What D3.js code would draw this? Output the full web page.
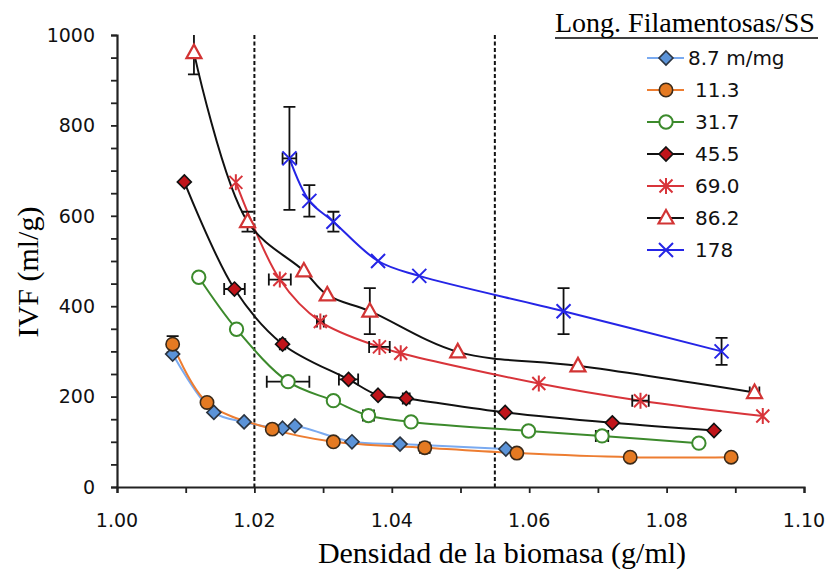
<!DOCTYPE html>
<html>
<head>
<meta charset="utf-8">
<script src="https://cdn.jsdelivr.net/npm/d3@7"></script>
<style>
  html, body { margin: 0; padding: 0; background: #fff; }
  svg { display: block; }
</style>
</head>
<body>
<svg id="chart" width="834" height="574"></svg>
<script>
// ---- Data: biomass density (g/ml) vs IVF (ml/g) by filament length ----
const seriesNames = ["8.7 m/mg", "11.3", "31.7", "45.5", "69.0", "86.2", "178"];

const density87 = [1.0081, 1.0141, 1.0185, 1.0241, 1.0259, 1.0342, 1.0412, 1.0566];
const ivf87     = [294, 165, 144, 130, 135, 100, 95, 84];

const density113 = [1.0081, 1.0131, 1.0226, 1.0315, 1.0448, 1.0582, 1.0747, 1.0894];
const ivf113     = [316, 187, 128, 100, 87, 75, 66, 66];
const yErr113    = [18, 0, 0, 0, 0, 0, 0, 0];
const xErr113    = [0, 0, 0, 0, 0.0007, 0, 0, 0];

const density317 = [1.0119, 1.0174, 1.0249, 1.0315, 1.0366, 1.0428, 1.0599, 1.0706, 1.0847];
const ivf317     = [464, 349, 233, 191, 158, 144, 124, 113, 97];
const xErr317    = [0, 0, 0.0031, 0, 0.0008, 0, 0, 0.0009, 0];

const density455 = [1.0098, 1.0171, 1.0241, 1.0337, 1.0380, 1.0421, 1.0565, 1.0721, 1.0869];
const ivf455     = [675, 438, 316, 238, 203, 196, 165, 142, 125];
const xErr455    = [0, 0.0015, 0.0004, 0.0014, 0, 0.0005, 0, 0, 0];

const density690 = [1.0173, 1.0237, 1.0296, 1.0382, 1.0413, 1.0614, 1.0762, 1.0940];
const ivf690     = [674, 459, 366, 310, 296, 229, 191, 157];
const xErr690    = [0, 0.0016, 0.0005, 0.0015, 0, 0, 0.0012, 0];

const density862 = [1.0112, 1.0190, 1.0272, 1.0306, 1.0368, 1.0496, 1.0671, 1.0928];
const ivf862     = [961, 587, 478, 425, 389, 299, 268, 209];
const yErr862    = [48, 22, 0, 0, 51, 0, 0, 0];
const xErr862    = [0, 0, 0, 0, 0, 0, 0, 0.0007];

const density178 = [1.0251, 1.0280, 1.0315, 1.0380, 1.0440, 1.0650, 1.0880];
const ivf178     = [727, 633, 587, 500, 467, 389, 300];
const yErr178    = [114, 35, 22, 0, 0, 51, 30];
const xErr178    = [0.001, 0, 0, 0, 0, 0, 0];

const xTicks = [1.00, 1.02, 1.04, 1.06, 1.08, 1.10];
const yTicks = [0, 200, 400, 600, 800, 1000];
const limitLines = [1.02, 1.055];

// ---- Series styling ----
const zeros = n => new Array(n).fill(0);
const series = [
  { name: seriesNames[0], x: density87,  y: ivf87,  ex: zeros(8), ey: zeros(8),
    line: "#7aaaf0", marker: "diamond", fill: "#5b93d8", stroke: "#2b3440" },
  { name: seriesNames[1], x: density113, y: ivf113, ex: xErr113, ey: yErr113,
    line: "#ed7d31", marker: "circle", fill: "#e57a22", stroke: "#3a2a1a" },
  { name: seriesNames[2], x: density317, y: ivf317, ex: xErr317, ey: zeros(9),
    line: "#3c8a2c", marker: "circle", fill: "#ffffff", stroke: "#3c8a2c" },
  { name: seriesNames[3], x: density455, y: ivf455, ex: xErr455, ey: zeros(9),
    line: "#111111", marker: "diamond", fill: "#c0141a", stroke: "#111111" },
  { name: seriesNames[4], x: density690, y: ivf690, ex: xErr690, ey: zeros(8),
    line: "#d8343a", marker: "asterisk", fill: "none", stroke: "#d8343a" },
  { name: seriesNames[5], x: density862, y: ivf862, ex: xErr862, ey: yErr862,
    line: "#111111", marker: "triangle", fill: "#ffffff", stroke: "#d23434" },
  { name: seriesNames[6], x: density178, y: ivf178, ex: xErr178, ey: yErr178,
    line: "#2525e6", marker: "cross", fill: "none", stroke: "#2525e6" }
];

// ---- Layout ----
const svg = d3.select("#chart");
const x = d3.scaleLinear().domain([1.00, 1.10]).range([117, 804]);
const y = d3.scaleLinear().domain([0, 1000]).range([487, 35]);

svg.append("defs").append("clipPath").attr("id", "plotClip")
  .append("rect").attr("x", 110).attr("y", 35).attr("width", 720).attr("height", 460);

// ---- Axes ----
const axisColor = "#222";
const yAxis = svg.append("g").attr("transform", `translate(${x(1.00)},0)`)
  .call(d3.axisLeft(y).tickValues(d3.range(0, 1001, 50)).tickSize(6).tickFormat(""));
const xAxis = svg.append("g").attr("transform", `translate(0,${y(0)})`)
  .call(d3.axisBottom(x).tickValues(d3.range(0, 11).map(i => 1 + i / 100)).tickSize(6).tickFormat(""));
[yAxis, xAxis].forEach(g => {
  g.select(".domain").attr("stroke", axisColor).attr("stroke-width", 2.2);
  g.selectAll(".tick line").attr("stroke", axisColor).attr("stroke-width", 1.8);
});

svg.append("g").selectAll("text").data(yTicks).join("text")
  .attr("x", 95).attr("y", d => y(d)).attr("dy", "0.36em")
  .attr("text-anchor", "end")
  .attr("font-family", "DejaVu Sans, Verdana, sans-serif").attr("font-size", 19)
  .attr("fill", "#111").text(d => d);

svg.append("g").selectAll("text").data(xTicks).join("text")
  .attr("x", d => x(d)).attr("y", 527)
  .attr("text-anchor", "middle")
  .attr("font-family", "DejaVu Sans, Verdana, sans-serif").attr("font-size", 19)
  .attr("fill", "#111").text(d => d.toFixed(2));

svg.append("text").attr("x", 502).attr("y", 563).attr("text-anchor", "middle")
  .attr("font-family", "Liberation Serif, Times New Roman, serif").attr("font-size", 30)
  .attr("fill", "#000").text("Densidad de la biomasa (g/ml)");

svg.append("text").attr("transform", "translate(38,272) rotate(-90)")
  .attr("text-anchor", "middle")
  .attr("font-family", "Liberation Serif, Times New Roman, serif").attr("font-size", 30)
  .attr("fill", "#000").text("IVF (ml/g)");

// ---- Reference density limits ----
svg.append("g").selectAll("line").data(limitLines).join("line")
  .attr("x1", d => x(d)).attr("x2", d => x(d))
  .attr("y1", y(1000)).attr("y2", y(0))
  .attr("stroke", "#111").attr("stroke-width", 2).attr("stroke-dasharray", "4,2.5");

// ---- Series lines ----
const plot = svg.append("g").attr("clip-path", "url(#plotClip)");
const lineGen = d3.line().x(d => x(d[0])).y(d => y(d[1])).curve(d3.curveCatmullRom.alpha(0.5));
series.forEach(s => {
  const pts = s.x.map((v, i) => [v, s.y[i]]);
  plot.append("path").datum(pts).attr("d", lineGen)
    .attr("fill", "none").attr("stroke", s.line).attr("stroke-width", 2);
});

// ---- Error bars ----
const errG = plot.append("g").attr("stroke", "#111").attr("stroke-width", 1.8).attr("fill", "none");
series.forEach(s => {
  s.x.forEach((v, i) => {
    const cx = x(v), cy = y(s.y[i]);
    if (s.ey[i] > 0) {
      const y1 = y(s.y[i] + s.ey[i]), y2 = y(s.y[i] - s.ey[i]);
      errG.append("path").attr("d",
        `M${cx},${y1}V${y2}M${cx - 6},${y1}H${cx + 6}M${cx - 6},${y2}H${cx + 6}`);
    }
    if (s.ex[i] > 0) {
      const x1 = x(v - s.ex[i]), x2 = x(v + s.ex[i]);
      errG.append("path").attr("d",
        `M${x1},${cy}H${x2}M${x1},${cy - 6}V${cy + 6}M${x2},${cy - 6}V${cy + 6}`);
    }
  });
});

// ---- Markers ----
function markerPath(type) {
  switch (type) {
    case "diamond":  return "M0,-7L7,0L0,7L-7,0Z";
    case "circle":   return d3.symbol(d3.symbolCircle, 140)();
    case "triangle": return "M0,-8L7.5,5.5L-7.5,5.5Z";
    case "asterisk": return "M0,-8V8M-6.5,-6.5L6.5,6.5M-6.5,6.5L6.5,-6.5";
    case "cross":    return "M-7,-7L7,7M-7,7L7,-7";
  }
}
function drawMarker(g, s, cx, cy) {
  const p = g.append("path").attr("d", markerPath(s.marker))
    .attr("transform", `translate(${cx},${cy})`)
    .attr("fill", s.fill).attr("stroke", s.stroke);
  if (s.marker === "asterisk" || s.marker === "cross") p.attr("stroke-width", 2);
  else if (s.marker === "circle" && s.fill === "#ffffff") p.attr("stroke-width", 2);
  else if (s.marker === "triangle") p.attr("stroke-width", 2.2);
  else p.attr("stroke-width", 1.6);
}
series.forEach(s => {
  const g = plot.append("g");
  s.x.forEach((v, i) => drawMarker(g, s, x(v), y(s.y[i])));
});

// ---- Legend ----
const legend = svg.append("g");
legend.append("text").attr("x", 555).attr("y", 32)
  .attr("font-family", "Liberation Serif, Times New Roman, serif").attr("font-size", 28)
  .attr("fill", "#000").text("Long. Filamentosas/SS");
legend.append("line").attr("x1", 555).attr("x2", 818).attr("y1", 38).attr("y2", 38)
  .attr("stroke", "#000").attr("stroke-width", 1.5);

const rowY = i => 58 + i * 32;
series.forEach((s, i) => {
  const ry = rowY(i);
  legend.append("line").attr("x1", 647).attr("x2", 684).attr("y1", ry).attr("y2", ry)
    .attr("stroke", s.line).attr("stroke-width", 2);
  drawMarker(legend, s, 666, ry);
  legend.append("text").attr("x", i === 0 ? 688 : 695).attr("y", ry).attr("dy", "0.36em")
    .attr("font-family", "DejaVu Sans, Verdana, sans-serif").attr("font-size", 20)
    .attr("fill", "#111").text(s.name);
});
</script>
</body>
</html>
